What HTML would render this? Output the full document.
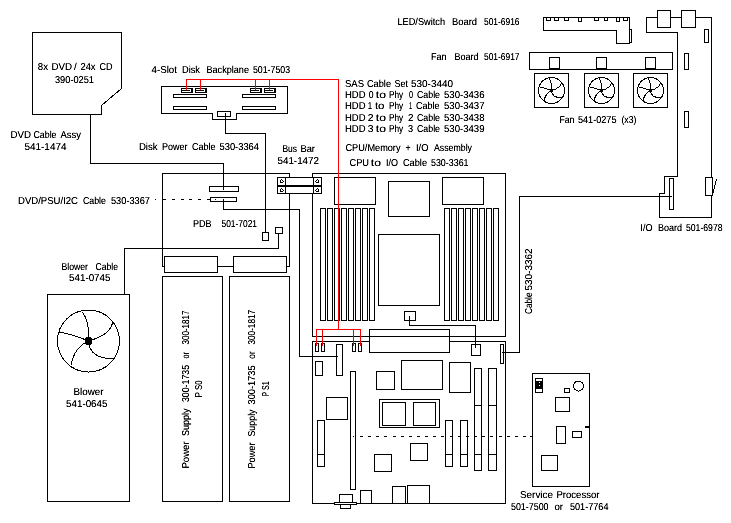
<!DOCTYPE html>
<html><head><meta charset="utf-8"><style>
html,body{margin:0;padding:0;background:#fff;}
body{width:731px;height:523px;overflow:hidden;}
svg{display:block;}
text{font-family:"Liberation Sans",sans-serif;fill:#000;white-space:pre;text-rendering:geometricPrecision;font-size:10px;}
</style></head><body>
<svg width="731" height="523" viewBox="0 0 731 523">
<rect x="0" y="0" width="731" height="523" fill="#fff"/>
<g fill="none" stroke="#000" stroke-width="1" shape-rendering="crispEdges">
<path d="M32.5,32.5 H121.5 V88.5 L101.5,105.5 V114.5 H32.5 Z"/>
<path d="M90.5,114.5 V163.5 H223.5 V189.5"/>
<path d="M161.5,86.5 H287.5 V113.5 H236.5 V119.5 H212.5 V113.5 H161.5 Z"/>
<rect x="173.5" y="94.5" width="33" height="3"/>
<rect x="173.5" y="106.5" width="33" height="3"/>
<rect x="242.5" y="94.5" width="33" height="3"/>
<rect x="242.5" y="106.5" width="33" height="3"/>
<rect x="181.5" y="88.5" width="11" height="4"/>
<rect x="182" y="90" width="8" height="1" fill="#000" stroke="none"/>
<rect x="191" y="89" width="1" height="3" fill="#000" stroke="none"/>
<rect x="195.5" y="88.5" width="11" height="4"/>
<rect x="196" y="90" width="8" height="1" fill="#000" stroke="none"/>
<rect x="205" y="89" width="1" height="3" fill="#000" stroke="none"/>
<rect x="250.5" y="88.5" width="11" height="4"/>
<rect x="251" y="90" width="8" height="1" fill="#000" stroke="none"/>
<rect x="260" y="89" width="1" height="3" fill="#000" stroke="none"/>
<rect x="264.5" y="88.5" width="11" height="4"/>
<rect x="265" y="90" width="8" height="1" fill="#000" stroke="none"/>
<rect x="274" y="89" width="1" height="3" fill="#000" stroke="none"/>
<rect x="217.5" y="111.5" width="13" height="5" fill="#fff"/>
<path d="M225.5,113 V133.5 H265.5 V232"/>
<rect x="262.5" y="232.5" width="6" height="8"/>
<path d="M164.5,266.5 H162.5 V173.5 H289.5 V266.5 H286.5"/>
<rect x="209.5" y="186.5" width="29" height="5" fill="#fff"/>
<rect x="210.5" y="197.5" width="26" height="4" fill="#fff"/>
<rect x="223" y="164" width="1" height="26" fill="#000" stroke="none"/>
<path d="M223.5,199 V209.5 H299.5 V356.5 H338"/>
<rect x="275.5" y="227.5" width="7" height="6"/>
<path d="M278.5,233.5 V248.5 H124.5 V294"/>
<rect x="164.5" y="256.5" width="53" height="16" fill="#fff"/>
<rect x="233.5" y="256.5" width="53" height="16" fill="#fff"/>
<rect x="217" y="266" width="17" height="1" fill="#000" stroke="none"/>
<rect x="162.5" y="276.5" width="60" height="225"/>
<rect x="229.5" y="276.5" width="60" height="225"/>
<rect x="155" y="199" width="1" height="1" fill="#000" stroke="none"/>
<rect x="163" y="199" width="3" height="1" fill="#000" stroke="none"/>
<rect x="172" y="199" width="3" height="1" fill="#000" stroke="none"/>
<rect x="181" y="199" width="3" height="1" fill="#000" stroke="none"/>
<rect x="189" y="199" width="3" height="1" fill="#000" stroke="none"/>
<rect x="198" y="199" width="3" height="1" fill="#000" stroke="none"/>
<rect x="207" y="199" width="3" height="1" fill="#000" stroke="none"/>
<rect x="215" y="199" width="1" height="1" fill="#000" stroke="none"/>
<rect x="312.5" y="173.5" width="193" height="163"/>
<rect x="334.5" y="177.5" width="41" height="27"/>
<rect x="442.5" y="177.5" width="41" height="27"/>
<rect x="388.5" y="181.5" width="41" height="35"/>
<rect x="378.5" y="234.5" width="61" height="71"/>
<rect x="320.5" y="208.5" width="5" height="112"/>
<rect x="444.5" y="208.5" width="5" height="112"/>
<rect x="327.5" y="208.5" width="5" height="112"/>
<rect x="451.5" y="208.5" width="5" height="112"/>
<rect x="334.5" y="208.5" width="5" height="112"/>
<rect x="458.5" y="208.5" width="5" height="112"/>
<rect x="341.5" y="208.5" width="5" height="112"/>
<rect x="465.5" y="208.5" width="5" height="112"/>
<rect x="348.5" y="208.5" width="5" height="112"/>
<rect x="472.5" y="208.5" width="5" height="112"/>
<rect x="355.5" y="208.5" width="5" height="112"/>
<rect x="479.5" y="208.5" width="5" height="112"/>
<rect x="362.5" y="208.5" width="5" height="112"/>
<rect x="486.5" y="208.5" width="5" height="112"/>
<rect x="369.5" y="208.5" width="5" height="112"/>
<rect x="493.5" y="208.5" width="5" height="112"/>
<rect x="404.5" y="311.5" width="11" height="9"/>
<path d="M409.5,316 V325.5 H475.5 V347"/>
<rect x="277.5" y="177.5" width="44" height="16" fill="#fff"/>
<rect x="277" y="185" width="45" height="2" fill="#000" stroke="none"/>
<rect x="285" y="177" width="1" height="17" fill="#000" stroke="none"/>
<rect x="313" y="177" width="1" height="17" fill="#000" stroke="none"/>
<rect x="281" y="179" width="1" height="1" fill="#000" stroke="none"/>
<rect x="280" y="180" width="1" height="1" fill="#000" stroke="none"/>
<rect x="282" y="180" width="1" height="1" fill="#000" stroke="none"/>
<rect x="280" y="181" width="1" height="1" fill="#000" stroke="none"/>
<rect x="283" y="181" width="1" height="1" fill="#000" stroke="none"/>
<rect x="280" y="182" width="1" height="1" fill="#000" stroke="none"/>
<rect x="281" y="182" width="1" height="1" fill="#000" stroke="none"/>
<rect x="282" y="182" width="1" height="1" fill="#000" stroke="none"/>
<rect x="317" y="179" width="1" height="1" fill="#000" stroke="none"/>
<rect x="316" y="180" width="1" height="1" fill="#000" stroke="none"/>
<rect x="318" y="180" width="1" height="1" fill="#000" stroke="none"/>
<rect x="315" y="181" width="1" height="1" fill="#000" stroke="none"/>
<rect x="318" y="181" width="1" height="1" fill="#000" stroke="none"/>
<rect x="316" y="182" width="1" height="1" fill="#000" stroke="none"/>
<rect x="317" y="182" width="1" height="1" fill="#000" stroke="none"/>
<rect x="318" y="182" width="1" height="1" fill="#000" stroke="none"/>
<rect x="281" y="188" width="1" height="1" fill="#000" stroke="none"/>
<rect x="280" y="189" width="1" height="1" fill="#000" stroke="none"/>
<rect x="282" y="189" width="1" height="1" fill="#000" stroke="none"/>
<rect x="280" y="190" width="1" height="1" fill="#000" stroke="none"/>
<rect x="283" y="190" width="1" height="1" fill="#000" stroke="none"/>
<rect x="280" y="191" width="1" height="1" fill="#000" stroke="none"/>
<rect x="281" y="191" width="1" height="1" fill="#000" stroke="none"/>
<rect x="282" y="191" width="1" height="1" fill="#000" stroke="none"/>
<rect x="317" y="188" width="1" height="1" fill="#000" stroke="none"/>
<rect x="316" y="189" width="1" height="1" fill="#000" stroke="none"/>
<rect x="318" y="189" width="1" height="1" fill="#000" stroke="none"/>
<rect x="315" y="190" width="1" height="1" fill="#000" stroke="none"/>
<rect x="318" y="190" width="1" height="1" fill="#000" stroke="none"/>
<rect x="316" y="191" width="1" height="1" fill="#000" stroke="none"/>
<rect x="317" y="191" width="1" height="1" fill="#000" stroke="none"/>
<rect x="318" y="191" width="1" height="1" fill="#000" stroke="none"/>
<rect x="312.5" y="341.5" width="193" height="162"/>
<rect x="369.5" y="329.5" width="80" height="23" fill="#fff"/>
<rect x="369" y="336" width="81" height="1" fill="#000" stroke="none"/>
<rect x="315.5" y="343.5" width="3" height="8"/>
<rect x="321.5" y="343.5" width="3" height="8"/>
<rect x="352.5" y="343.5" width="3" height="8"/>
<rect x="358.5" y="343.5" width="3" height="8"/>
<rect x="336.5" y="344.5" width="6" height="31"/>
<rect x="315.5" y="361.5" width="7" height="14"/>
<rect x="350.5" y="371.5" width="5" height="118"/>
<rect x="326.5" y="397.5" width="21" height="22"/>
<rect x="376.5" y="371.5" width="18" height="18"/>
<rect x="401.5" y="360.5" width="41" height="29"/>
<rect x="449.5" y="362.5" width="21" height="30"/>
<rect x="474.5" y="368.5" width="7" height="102"/>
<rect x="474" y="405" width="8" height="1" fill="#000" stroke="none"/>
<rect x="474" y="454" width="8" height="1" fill="#000" stroke="none"/>
<rect x="488.5" y="368.5" width="8" height="102"/>
<rect x="488" y="405" width="9" height="1" fill="#000" stroke="none"/>
<rect x="488" y="454" width="9" height="1" fill="#000" stroke="none"/>
<rect x="379.5" y="399.5" width="60" height="28"/>
<rect x="382.5" y="402.5" width="23" height="23"/>
<rect x="413.5" y="402.5" width="22" height="23"/>
<rect x="317.5" y="420.5" width="7" height="46"/>
<rect x="317" y="454" width="8" height="1" fill="#000" stroke="none"/>
<rect x="445.5" y="420.5" width="7" height="46"/>
<rect x="445" y="454" width="8" height="1" fill="#000" stroke="none"/>
<rect x="460.5" y="420.5" width="7" height="46"/>
<rect x="460" y="454" width="8" height="1" fill="#000" stroke="none"/>
<rect x="374.5" y="454.5" width="17" height="17"/>
<rect x="410.5" y="443.5" width="17" height="17"/>
<rect x="471.5" y="344.5" width="9" height="11" fill="#fff"/>
<rect x="475" y="325" width="1" height="23" fill="#000" stroke="none"/>
<rect x="500.5" y="344.5" width="3" height="19"/>
<path d="M671,196.5 H519.5 V352.5 H502"/>
<rect x="360.5" y="490.5" width="11" height="13"/>
<rect x="392.5" y="486.5" width="13" height="17"/>
<rect x="407.5" y="485.5" width="22" height="18"/>
<rect x="339.5" y="494.5" width="13" height="9" fill="#fff"/>
<rect x="340.5" y="504.5" width="10" height="4" fill="#fff"/>
<rect x="334.5" y="502.5" width="22" height="2" rx="1" fill="#fff"/>
<rect x="353" y="436" width="1" height="1" fill="#000" stroke="none"/>
<rect x="360" y="436" width="3" height="1" fill="#000" stroke="none"/>
<rect x="368" y="436" width="3" height="1" fill="#000" stroke="none"/>
<rect x="376" y="436" width="3" height="1" fill="#000" stroke="none"/>
<rect x="384" y="436" width="3" height="1" fill="#000" stroke="none"/>
<rect x="393" y="436" width="3" height="1" fill="#000" stroke="none"/>
<rect x="401" y="436" width="3" height="1" fill="#000" stroke="none"/>
<rect x="409" y="436" width="3" height="1" fill="#000" stroke="none"/>
<rect x="417" y="436" width="3" height="1" fill="#000" stroke="none"/>
<rect x="425" y="436" width="3" height="1" fill="#000" stroke="none"/>
<rect x="433" y="436" width="3" height="1" fill="#000" stroke="none"/>
<rect x="441" y="436" width="3" height="1" fill="#000" stroke="none"/>
<rect x="450" y="436" width="3" height="1" fill="#000" stroke="none"/>
<rect x="458" y="436" width="3" height="1" fill="#000" stroke="none"/>
<rect x="466" y="436" width="3" height="1" fill="#000" stroke="none"/>
<rect x="474" y="436" width="3" height="1" fill="#000" stroke="none"/>
<rect x="482" y="436" width="3" height="1" fill="#000" stroke="none"/>
<rect x="490" y="436" width="3" height="1" fill="#000" stroke="none"/>
<rect x="499" y="436" width="3" height="1" fill="#000" stroke="none"/>
<rect x="507" y="436" width="3" height="1" fill="#000" stroke="none"/>
<rect x="515" y="436" width="3" height="1" fill="#000" stroke="none"/>
<rect x="523" y="436" width="3" height="1" fill="#000" stroke="none"/>
<rect x="531" y="436" width="0" height="1" fill="#000" stroke="none"/>
<rect x="530" y="436" width="2" height="1" fill="#000" stroke="none"/>
<rect x="532.5" y="373.5" width="57" height="113"/>
<rect x="535.5" y="378.5" width="7" height="14"/>
<rect x="536" y="381" width="6" height="8" fill="#000" stroke="none"/>
<rect x="539" y="382" width="1" height="1" fill="#fff" stroke="none"/>
<rect x="539" y="385" width="1" height="1" fill="#fff" stroke="none"/>
<circle cx="578.5" cy="386" r="5"/>
<rect x="564.5" y="388.5" width="5" height="4"/>
<rect x="555.5" y="397.5" width="14" height="14"/>
<rect x="556.5" y="426.5" width="9" height="17"/>
<rect x="572.5" y="431.5" width="9" height="6"/>
<rect x="585" y="426" width="4" height="2" fill="#000" stroke="none"/>
<rect x="541.5" y="455.5" width="16" height="15"/>
<rect x="47.5" y="294.5" width="82" height="207"/>
<circle cx="88.5" cy="341" r="31"/>
<path d="M88.5,341 Q89.5,320.0 82.0,312.0 M88.5,341 Q112.6,334.2 112.6,320.6 M88.5,341 Q89.5,358.7 113.4,358.7 M88.5,341 Q74.2,347.3 70.9,365.4 M88.5,341 Q73.3,334.5 59.2,332.1 "/>
<circle cx="88.5" cy="341" r="3.5" fill="#000"/>
<path d="M543.5,17.5 H629.5 V43.5 H616.5 V30.5 H543.5 Z"/>
<rect x="629.5" y="29.5" width="2" height="13"/>
<rect x="546.5" y="17.5" width="4" height="3"/>
<rect x="554.5" y="17.5" width="4" height="3"/>
<rect x="564.5" y="17.5" width="4" height="3"/>
<rect x="578.5" y="17.5" width="3" height="4"/>
<rect x="594.5" y="17.5" width="4" height="3"/>
<rect x="604.5" y="17.5" width="3" height="3"/>
<rect x="616.5" y="17.5" width="3" height="4"/>
<rect x="623.5" y="17.5" width="4" height="3"/>
<rect x="529.5" y="52.5" width="143" height="17"/>
<rect x="549.5" y="57.5" width="10" height="12"/>
<rect x="549" y="68" width="11" height="2" fill="#000" stroke="none"/>
<rect x="596.5" y="57.5" width="10" height="12"/>
<rect x="596" y="68" width="11" height="2" fill="#000" stroke="none"/>
<rect x="645.5" y="57.5" width="10" height="12"/>
<rect x="645" y="68" width="11" height="2" fill="#000" stroke="none"/>
<rect x="534.5" y="73.5" width="34" height="34"/>
<circle cx="551.5" cy="90.5" r="13"/>
<path d="M551.5,90.5 Q551.9,81.7 548.8,78.3 M551.5,90.5 Q561.6,87.7 561.6,81.9 M551.5,90.5 Q551.9,97.9 561.9,97.9 M551.5,90.5 Q545.5,93.1 544.1,100.7 M551.5,90.5 Q545.1,87.8 539.2,86.8 "/>
<circle cx="551.5" cy="90.5" r="1.2" fill="#000"/>
<rect x="584.5" y="73.5" width="34" height="34"/>
<circle cx="601.5" cy="90.5" r="13"/>
<path d="M601.5,90.5 Q601.9,81.7 598.8,78.3 M601.5,90.5 Q611.6,87.7 611.6,81.9 M601.5,90.5 Q601.9,97.9 611.9,97.9 M601.5,90.5 Q595.5,93.1 594.1,100.7 M601.5,90.5 Q595.1,87.8 589.2,86.8 "/>
<circle cx="601.5" cy="90.5" r="1.2" fill="#000"/>
<rect x="633.5" y="73.5" width="34" height="34"/>
<circle cx="650.5" cy="90.5" r="13"/>
<path d="M650.5,90.5 Q650.9,81.7 647.8,78.3 M650.5,90.5 Q660.6,87.7 660.6,81.9 M650.5,90.5 Q650.9,97.9 660.9,97.9 M650.5,90.5 Q644.5,93.1 643.1,100.7 M650.5,90.5 Q644.1,87.8 638.2,86.8 "/>
<circle cx="650.5" cy="90.5" r="1.2" fill="#000"/>
<path d="M646.5,17.5 V32.5 H677.5 V176.5 H664.5 V193.5 H659.5 V217.5 H711.5 V17.5 Z"/>
<rect x="657.5" y="10.5" width="13" height="17" fill="#fff"/>
<rect x="681.5" y="10.5" width="14" height="17" fill="#fff"/>
<rect x="704.5" y="29.5" width="4" height="13"/>
<rect x="684.5" y="53.5" width="4" height="16"/>
<rect x="684.5" y="111.5" width="4" height="16"/>
<rect x="669.5" y="178.5" width="4" height="31" fill="#fff"/>
<rect x="705.5" y="177.5" width="7" height="18" fill="#fff"/>
<rect x="669" y="196" width="3" height="1" fill="#000" stroke="none"/>
<path d="M716.5,179 L713,193"/>
<path d="M186.5,89.5 V79.5 H338.5 V329.5" stroke="#ff0000"/>
<path d="M200.5,89.5 V79.5" stroke="#ff0000"/>
<path d="M255.5,89.5 V79.5" stroke="#ff0000"/>
<path d="M269.5,89.5 V79.5" stroke="#ff0000"/>
<path d="M316.5,345.5 V329.5 H360.5 V345.5" stroke="#ff0000"/>
<path d="M322.5,329.5 V345.5 M353.5,329.5 V345.5" stroke="#ff0000"/>
</g>
<defs><filter id="crisp" x="0" y="0" width="731" height="523" filterUnits="userSpaceOnUse"><feComponentTransfer><feFuncA type="linear" slope="1.3" intercept="0"/></feComponentTransfer></filter></defs>
<g xml:space="preserve" filter="url(#crisp)">
<text x="37.87" y="70" textLength="10.21" lengthAdjust="spacingAndGlyphs">8x</text>
<text x="51.41" y="70" textLength="20.61" lengthAdjust="spacingAndGlyphs">DVD</text>
<text x="74.11" y="70" textLength="2.7" lengthAdjust="spacingAndGlyphs">/</text>
<text x="80.44" y="70" textLength="15.1" lengthAdjust="spacingAndGlyphs">24x</text>
<text x="99.48" y="70" textLength="13.09" lengthAdjust="spacingAndGlyphs">CD</text>
<text x="54.98" y="82.5" textLength="39.04" lengthAdjust="spacingAndGlyphs">390-0251</text>
<text x="151.51" y="73" textLength="25.51" lengthAdjust="spacingAndGlyphs">4-Slot</text>
<text x="181.98" y="73" textLength="18.03" lengthAdjust="spacingAndGlyphs">Disk</text>
<text x="206.45" y="73" textLength="42.57" lengthAdjust="spacingAndGlyphs">Backplane</text>
<text x="252.97" y="73" textLength="37.06" lengthAdjust="spacingAndGlyphs">501-7503</text>
<text x="10.48" y="138" textLength="20.55" lengthAdjust="spacingAndGlyphs">DVD</text>
<text x="33.47" y="138" textLength="23.07" lengthAdjust="spacingAndGlyphs">Cable</text>
<text x="60.48" y="138" textLength="20.51" lengthAdjust="spacingAndGlyphs">Assy</text>
<text x="24.48" y="150" textLength="42.01" lengthAdjust="spacingAndGlyphs">541-1474</text>
<text x="138.9" y="150" textLength="18.64" lengthAdjust="spacingAndGlyphs">Disk</text>
<text x="161.96" y="150" textLength="25.54" lengthAdjust="spacingAndGlyphs">Power</text>
<text x="191.96" y="150" textLength="23.61" lengthAdjust="spacingAndGlyphs">Cable</text>
<text x="219.48" y="150" textLength="39.55" lengthAdjust="spacingAndGlyphs">530-3364</text>
<text x="282.46" y="152" textLength="14.61" lengthAdjust="spacingAndGlyphs">Bus</text>
<text x="300.42" y="152" textLength="14.58" lengthAdjust="spacingAndGlyphs">Bar</text>
<text x="277.48" y="164" textLength="41.53" lengthAdjust="spacingAndGlyphs">541-1472</text>
<text x="18.0" y="204" textLength="60.02" lengthAdjust="spacingAndGlyphs">DVD/PSU/I2C</text>
<text x="82.98" y="204" textLength="23.02" lengthAdjust="spacingAndGlyphs">Cable</text>
<text x="110.98" y="204" textLength="39.04" lengthAdjust="spacingAndGlyphs">530-3367</text>
<text x="192.98" y="227" textLength="18.55" lengthAdjust="spacingAndGlyphs">PDB</text>
<text x="221.48" y="227" textLength="35.55" lengthAdjust="spacingAndGlyphs">501-7021</text>
<text x="61.42" y="270" textLength="26.61" lengthAdjust="spacingAndGlyphs">Blower</text>
<text x="95.48" y="270" textLength="22.52" lengthAdjust="spacingAndGlyphs">Cable</text>
<text x="69.0" y="281" textLength="41.52" lengthAdjust="spacingAndGlyphs">541-0745</text>
<text x="73.49" y="395" textLength="30.02" lengthAdjust="spacingAndGlyphs">Blower</text>
<text x="66.0" y="407" textLength="41.52" lengthAdjust="spacingAndGlyphs">541-0645</text>
<text x="344.96" y="87" textLength="19.09" lengthAdjust="spacingAndGlyphs">SAS</text>
<text x="366.95" y="87" textLength="24.08" lengthAdjust="spacingAndGlyphs">Cable</text>
<text x="394.42" y="87" textLength="13.58" lengthAdjust="spacingAndGlyphs">Set</text>
<text x="410.97" y="87" textLength="42.04" lengthAdjust="spacingAndGlyphs">530-3440</text>
<text x="344.91" y="98" textLength="20.6" lengthAdjust="spacingAndGlyphs">HDD</text>
<text x="368.85" y="98" textLength="4.78" lengthAdjust="spacingAndGlyphs">0</text>
<text x="375.87" y="98" textLength="10.2" lengthAdjust="spacingAndGlyphs">to</text>
<text x="388.94" y="98" textLength="14.14" lengthAdjust="spacingAndGlyphs">Phy</text>
<text x="408.92" y="98" textLength="4.08" lengthAdjust="spacingAndGlyphs">0</text>
<text x="416.99" y="98" textLength="23.05" lengthAdjust="spacingAndGlyphs">Cable</text>
<text x="443.97" y="98" textLength="40.54" lengthAdjust="spacingAndGlyphs">530-3436</text>
<text x="344.91" y="109" textLength="20.6" lengthAdjust="spacingAndGlyphs">HDD</text>
<text x="367.82" y="109" textLength="4.4" lengthAdjust="spacingAndGlyphs">1</text>
<text x="374.92" y="109" textLength="9.62" lengthAdjust="spacingAndGlyphs">to</text>
<text x="388.94" y="109" textLength="14.14" lengthAdjust="spacingAndGlyphs">Phy</text>
<text x="408.9" y="109" textLength="3.1" lengthAdjust="spacingAndGlyphs">1</text>
<text x="415.96" y="109" textLength="23.61" lengthAdjust="spacingAndGlyphs">Cable</text>
<text x="443.98" y="109" textLength="40.54" lengthAdjust="spacingAndGlyphs">530-3437</text>
<text x="344.91" y="121" textLength="20.6" lengthAdjust="spacingAndGlyphs">HDD</text>
<text x="367.86" y="121" textLength="5.73" lengthAdjust="spacingAndGlyphs">2</text>
<text x="375.87" y="121" textLength="10.2" lengthAdjust="spacingAndGlyphs">to</text>
<text x="388.94" y="121" textLength="14.14" lengthAdjust="spacingAndGlyphs">Phy</text>
<text x="407.89" y="121" textLength="5.44" lengthAdjust="spacingAndGlyphs">2</text>
<text x="416.99" y="121" textLength="23.05" lengthAdjust="spacingAndGlyphs">Cable</text>
<text x="443.97" y="121" textLength="40.54" lengthAdjust="spacingAndGlyphs">530-3438</text>
<text x="344.91" y="132" textLength="20.6" lengthAdjust="spacingAndGlyphs">HDD</text>
<text x="367.86" y="132" textLength="5.73" lengthAdjust="spacingAndGlyphs">3</text>
<text x="375.87" y="132" textLength="10.2" lengthAdjust="spacingAndGlyphs">to</text>
<text x="388.94" y="132" textLength="14.14" lengthAdjust="spacingAndGlyphs">Phy</text>
<text x="407.9" y="132" textLength="5.1" lengthAdjust="spacingAndGlyphs">3</text>
<text x="416.99" y="132" textLength="23.05" lengthAdjust="spacingAndGlyphs">Cable</text>
<text x="443.97" y="132" textLength="40.54" lengthAdjust="spacingAndGlyphs">530-3439</text>
<text x="345.5" y="151" textLength="55.0" lengthAdjust="spacingAndGlyphs">CPU/Memory</text>
<text x="405.44" y="151" textLength="5.15" lengthAdjust="spacingAndGlyphs">+</text>
<text x="415.99" y="151" textLength="12.54" lengthAdjust="spacingAndGlyphs">I/O</text>
<text x="433.99" y="151" textLength="38.03" lengthAdjust="spacingAndGlyphs">Assembly</text>
<text x="349.46" y="166" textLength="19.56" lengthAdjust="spacingAndGlyphs">CPU</text>
<text x="370.87" y="166" textLength="10.2" lengthAdjust="spacingAndGlyphs">to</text>
<text x="385.96" y="166" textLength="12.04" lengthAdjust="spacingAndGlyphs">I/O</text>
<text x="402.95" y="166" textLength="24.08" lengthAdjust="spacingAndGlyphs">Cable</text>
<text x="430.97" y="166" textLength="37.56" lengthAdjust="spacingAndGlyphs">530-3361</text>
<text x="397.48" y="25" textLength="47.53" lengthAdjust="spacingAndGlyphs">LED/Switch</text>
<text x="451.97" y="25" textLength="25.07" lengthAdjust="spacingAndGlyphs">Board</text>
<text x="483.99" y="25" textLength="35.52" lengthAdjust="spacingAndGlyphs">501-6916</text>
<text x="430.99" y="60" textLength="15.56" lengthAdjust="spacingAndGlyphs">Fan</text>
<text x="454.47" y="60" textLength="24.02" lengthAdjust="spacingAndGlyphs">Board</text>
<text x="483.99" y="60" textLength="35.52" lengthAdjust="spacingAndGlyphs">501-6917</text>
<text x="559.4" y="123" textLength="15.1" lengthAdjust="spacingAndGlyphs">Fan</text>
<text x="577.99" y="123" textLength="38.52" lengthAdjust="spacingAndGlyphs">541-0275</text>
<text x="621.48" y="123" textLength="15.03" lengthAdjust="spacingAndGlyphs">(x3)</text>
<text x="640.37" y="231" textLength="12.13" lengthAdjust="spacingAndGlyphs">I/O</text>
<text x="657.93" y="231" textLength="24.12" lengthAdjust="spacingAndGlyphs">Board</text>
<text x="685.99" y="231" textLength="36.54" lengthAdjust="spacingAndGlyphs">501-6978</text>
<text x="519.98" y="498" textLength="33.05" lengthAdjust="spacingAndGlyphs">Service</text>
<text x="556.47" y="498" textLength="43.03" lengthAdjust="spacingAndGlyphs">Processor</text>
<text x="510.97" y="510" textLength="37.54" lengthAdjust="spacingAndGlyphs">501-7500</text>
<text x="554.47" y="510" textLength="8.59" lengthAdjust="spacingAndGlyphs">or</text>
<text x="569.99" y="510" textLength="38.52" lengthAdjust="spacingAndGlyphs">501-7764</text>
<text transform="translate(188.5,468.56) rotate(-90)" textLength="27.14" lengthAdjust="spacingAndGlyphs">Power</text>
<text transform="translate(188.5,436.03) rotate(-90)" textLength="27.53" lengthAdjust="spacingAndGlyphs">Supply</text>
<text transform="translate(188.5,402.0) rotate(-90)" textLength="37.01" lengthAdjust="spacingAndGlyphs">300-1735</text>
<text transform="translate(188.5,358.5) rotate(-90)" textLength="6.57" lengthAdjust="spacingAndGlyphs">or</text>
<text transform="translate(188.5,344.52) rotate(-90)" textLength="34.04" lengthAdjust="spacingAndGlyphs">300-1817</text>
<text transform="translate(202,397.65) rotate(-90)" textLength="5.74" lengthAdjust="spacingAndGlyphs">P</text>
<text transform="translate(202,390.06) rotate(-90)" textLength="9.57" lengthAdjust="spacingAndGlyphs">S0</text>
<text transform="translate(255.2,468.56) rotate(-90)" textLength="26.12" lengthAdjust="spacingAndGlyphs">Power</text>
<text transform="translate(255.2,436.53) rotate(-90)" textLength="27.06" lengthAdjust="spacingAndGlyphs">Supply</text>
<text transform="translate(255.2,404.5) rotate(-90)" textLength="39.02" lengthAdjust="spacingAndGlyphs">300-1735</text>
<text transform="translate(255.2,358.63) rotate(-90)" textLength="7.22" lengthAdjust="spacingAndGlyphs">or</text>
<text transform="translate(255.2,344.49) rotate(-90)" textLength="34.52" lengthAdjust="spacingAndGlyphs">300-1817</text>
<text transform="translate(269,396.16) rotate(-90)" textLength="4.26" lengthAdjust="spacingAndGlyphs">P</text>
<text transform="translate(269,390.07) rotate(-90)" textLength="8.65" lengthAdjust="spacingAndGlyphs">S1</text>
<text transform="translate(532,314.03) rotate(-90)" textLength="21.55" lengthAdjust="spacingAndGlyphs">Cable</text>
<text transform="translate(532,290.53) rotate(-90)" textLength="42.04" lengthAdjust="spacingAndGlyphs">530-3362</text>
</g>
</svg>
</body></html>
